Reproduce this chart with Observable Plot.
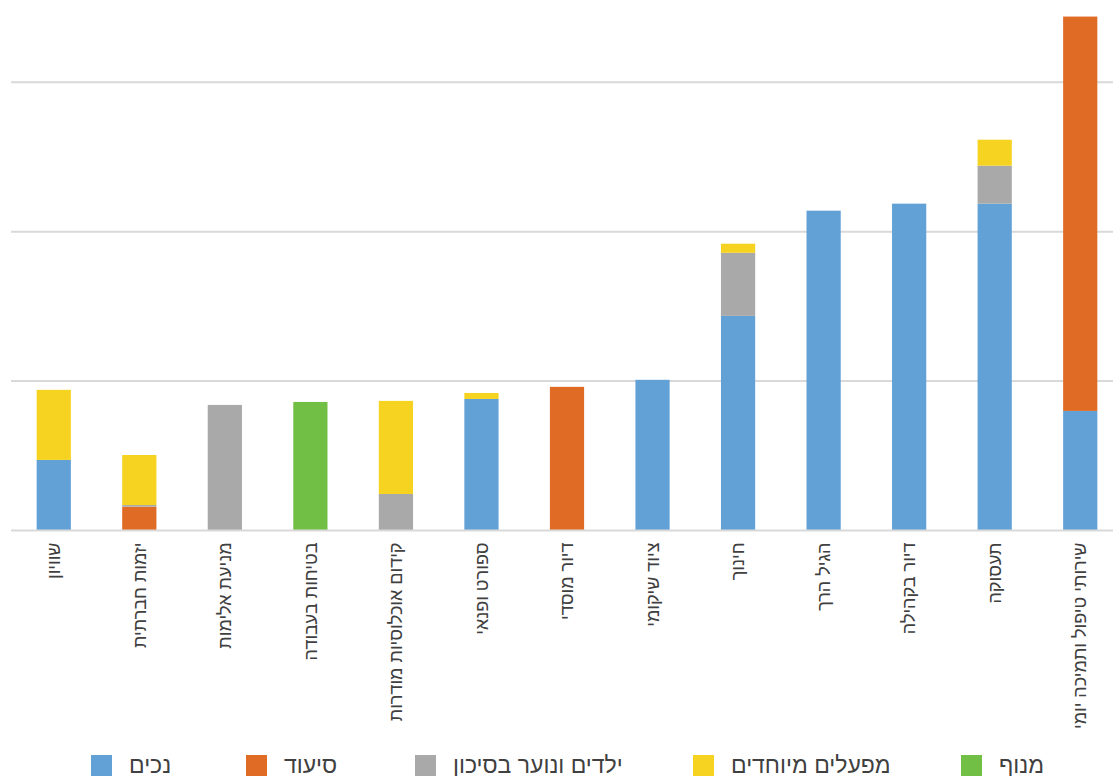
<!DOCTYPE html>
<html lang="he">
<head>
<meta charset="utf-8">
<script src="https://cdn.jsdelivr.net/npm/d3@7"></script>
<script src="https://cdn.jsdelivr.net/npm/@observablehq/plot@0.6"></script>
<style>
  html, body { margin: 0; padding: 0; background: #fff; overflow: hidden; }
  body { width: 1113px; height: 776px; font-family: "Liberation Sans", "DejaVu Sans", sans-serif; }
  #chart svg { max-width: none !important; display: block; }
  #legend { position: relative; height: 31px; direction: ltr; }
  .sw { position: absolute; top: 10px; width: 21px; height: 21px; }
  .lbl { position: absolute; top: 7px; font-size: 23px; line-height: 26px; color: #404040; white-space: nowrap; }
</style>
</head>
<body>
<div id="chart"></div>
<div id="legend"></div>
<script>
const categories = [
  "שוויון",
  "יזמות חברתית",
  "מניעת אלימות",
  "בטיחות בעבודה",
  "קידום אוכלוסיות מודרות",
  "ספורט ופנאי",
  "דיור מוסדי",
  "ציוד שיקומי",
  "חינוך",
  "הגיל הרך",
  "דיור בקהילה",
  "תעסוקה",
  "שירותי טיפול ותמיכה יומי"
];
const seriesNames = ["נכים", "סיעוד", "ילדים ונוער בסיכון", "מפעלים מיוחדים", "מנוף"];
const seriesColors = ["#62a1d6", "#e06b25", "#a8a9a8", "#f5d320", "#72bf45"];

const nechim      = [46.9, 0,    0,    0,    0,    87.7, 0,    100.5, 143.3, 213.7, 218.4, 218.4, 79.7];
const siud        = [0,    15.6, 0,    0,    0,    0,    95.8, 0,     0,     0,     0,     0,     263.9];
const yeladim     = [0,    1.1,  83.7, 0,    24.1, 0,    0,    0,     42.2,  0,     0,     25.4,  0];
const mifalim     = [46.9, 33.5, 0,    0,    62.3, 4.0,  0,    0,     6.1,   0,     0,     17.4,  0];
const manof       = [0,    0,    0,    85.7, 0,    0,    0,    0,     0,     0,     0,     0,     0];
const gridValues  = [100, 200, 300];

const seriesValues = [nechim, siud, yeladim, mifalim, manof];
const rows = [];
seriesValues.forEach((vals, si) => {
  vals.forEach((v, ci) => {
    if (v > 0) rows.push({category: categories[ci], series: seriesNames[si], value: v});
  });
});

const chart = Plot.plot({
  width: 1123,
  height: 745,
  marginLeft: 11,
  marginRight: 0,
  marginTop: 7,
  marginBottom: 215,
  style: {fontFamily: "'Liberation Sans', 'DejaVu Sans', sans-serif", background: "#fff", maxWidth: "none"},
  x: {domain: categories, paddingInner: 0.6, paddingOuter: 0.3, round: false, label: null},
  y: {domain: [0, 350], axis: null},
  color: {domain: seriesNames, range: seriesColors},
  marks: [
    Plot.ruleY(gridValues, {stroke: "#d9d9d9", strokeWidth: 2}),
    Plot.barY(rows, {x: "category", y: "value", fill: "series", z: "series", order: seriesNames}),
    Plot.ruleY([0], {stroke: "#d9d9d9", strokeWidth: 2}),
    Plot.axisX({tickRotate: -90, tickSize: 0, tickPadding: 12, fontSize: 18, fill: "#404040", label: null})
  ]
});
document.getElementById("chart").appendChild(chart);

const legendX = [91, 246, 415, 693, 961];
const legend = document.getElementById("legend");
seriesNames.forEach((name, i) => {
  const sw = document.createElement("div");
  sw.className = "sw";
  sw.style.left = legendX[i] + "px";
  sw.style.background = seriesColors[i];
  const lb = document.createElement("span");
  lb.className = "lbl";
  lb.style.left = (legendX[i] + 38) + "px";
  lb.textContent = name;
  legend.appendChild(sw);
  legend.appendChild(lb);
});
</script>
</body>
</html>
